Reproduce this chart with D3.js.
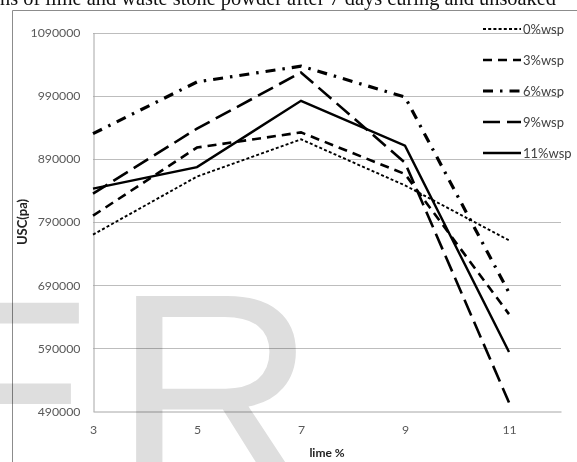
<!DOCTYPE html>
<html><head><meta charset="utf-8">
<script src="https://cdn.jsdelivr.net/npm/d3@7"></script>
<style>
html,body{margin:0;padding:0;background:#fff;overflow:hidden;}
svg{display:block;}
</style></head>
<body>
<svg id="c" width="577" height="462"></svg>
<script>
// ---- data ----
const limePct = [3, 5, 7, 9, 11];
const wsp0  = [770000, 862000, 921000, 848000, 761000];
const wsp3  = [800000, 908000, 932000, 866000, 644000];
const wsp6  = [930000, 1012000, 1037000, 988000, 678000];
const wsp9  = [835000, 938000, 1027000, 884000, 504000];
const wsp11 = [843000, 877000, 982000, 911000, 584000];
const seriesNames = ["0%wsp", "3%wsp", "6%wsp", "9%wsp", "11%wsp"];
const yTicks = [490000, 590000, 690000, 790000, 890000, 990000, 1090000];
const xTicks = [3, 5, 7, 9, 11];
const titleText = "ns of lime and waste stone powder after 7 days curing and unsoaked";

const series = [wsp0, wsp3, wsp6, wsp9, wsp11];
const styles = [
  {dash: "3,2.2", w: 1.9},
  {dash: "9,6", w: 2.6},
  {dash: "10,7,2.5,7", w: 3.2},
  {dash: "17,7", w: 2.6},
  {dash: null, w: 2.4}
];

const svg = d3.select("#c");
const x = d3.scaleLinear().domain([3, 12]).range([93, 561]);
const y = d3.scaleLinear().domain([490000, 1090000]).range([411.3, 32.7]);
const font = "Lato, 'Open Sans', sans-serif";

// title (cropped at top)
svg.append("text").attr("x", 0).attr("y", 5)
  .attr("font-family", "'Liberation Serif', 'Times New Roman', serif")
  .attr("font-size", 20.4).attr("fill", "#111").text(titleText);

// outer chart border
svg.append("path").attr("d", "M12.5,470V10.5H590")
  .attr("fill", "none").attr("stroke", "#8c8c8c").attr("stroke-width", 1);

// gridlines
svg.append("g").selectAll("line").data(yTicks.slice(1)).join("line")
  .attr("x1", x(3)).attr("x2", x(12))
  .attr("y1", d => Math.round(y(d)) + 0.5).attr("y2", d => Math.round(y(d)) + 0.5)
  .attr("stroke", "#bdbdbd").attr("stroke-width", 1);

// axes
const yAxis = d3.axisLeft(y).tickValues(yTicks).tickSize(0).tickPadding(13)
  .tickFormat(d3.format("d"));
const gy = svg.append("g").attr("transform", `translate(${Math.round(x(3)) + 0.5},0)`).call(yAxis);
gy.select(".domain").attr("stroke", "#a6a6a6");
gy.selectAll("text").attr("font-family", font).attr("font-size", 12.3).attr("fill", "#595959");

const xAxis = d3.axisBottom(x).tickValues(xTicks).tickSize(0).tickPadding(14);
const gx = svg.append("g").attr("transform", `translate(0,${Math.round(y(490000)) + 0.5})`).call(xAxis);
gx.select(".domain").attr("stroke", "#a6a6a6");
gx.selectAll("text").attr("font-family", font).attr("font-size", 12.3).attr("fill", "#595959");

// axis titles
svg.append("text").attr("x", 327).attr("y", 457).attr("text-anchor", "middle")
  .attr("font-family", font).attr("font-weight", "bold").attr("font-size", 12).attr("fill", "#222")
  .text("lime %");
svg.append("text").attr("transform", "translate(27,222) rotate(-90)").attr("text-anchor", "middle")
  .attr("font-family", font).attr("font-weight", "bold").attr("font-size", 13).attr("fill", "#222")
  .text("USC(pa)");

// lines
const line = d3.line().x((d, i) => x(limePct[i])).y(d => y(d));
svg.append("g").selectAll("path").data(series).join("path")
  .attr("d", d => line(d))
  .attr("fill", "none").attr("stroke", "#000")
  .attr("stroke-width", (d, i) => styles[i].w)
  .attr("stroke-dasharray", (d, i) => styles[i].dash);

// legend
const lg = svg.append("g");
seriesNames.forEach((name, i) => {
  const ly = 29 + i * 31;
  lg.append("line").attr("x1", 483).attr("x2", 521).attr("y1", ly).attr("y2", ly)
    .attr("stroke", "#000").attr("stroke-width", styles[i].w)
    .attr("stroke-dasharray", styles[i].dash);
  lg.append("text").attr("x", 523).attr("y", ly).attr("dy", "0.35em")
    .attr("font-family", font).attr("font-size", 13).attr("fill", "#404040").text(name);
});

// watermark letters
const wm = svg.append("g").style("mix-blend-mode", "multiply");
wm.append("text").attr("x", 96).attr("y", 490).attr("text-anchor", "end")
  .attr("font-family", "'Liberation Sans', Arial, sans-serif").attr("font-size", 272)
  .attr("fill", "#dedede").text("E");
wm.append("text").attr("x", 113).attr("y", 490)
  .attr("font-family", "'Liberation Sans', Arial, sans-serif").attr("font-size", 282)
  .attr("fill", "#dedede").text("R");
</script>
</body></html>
